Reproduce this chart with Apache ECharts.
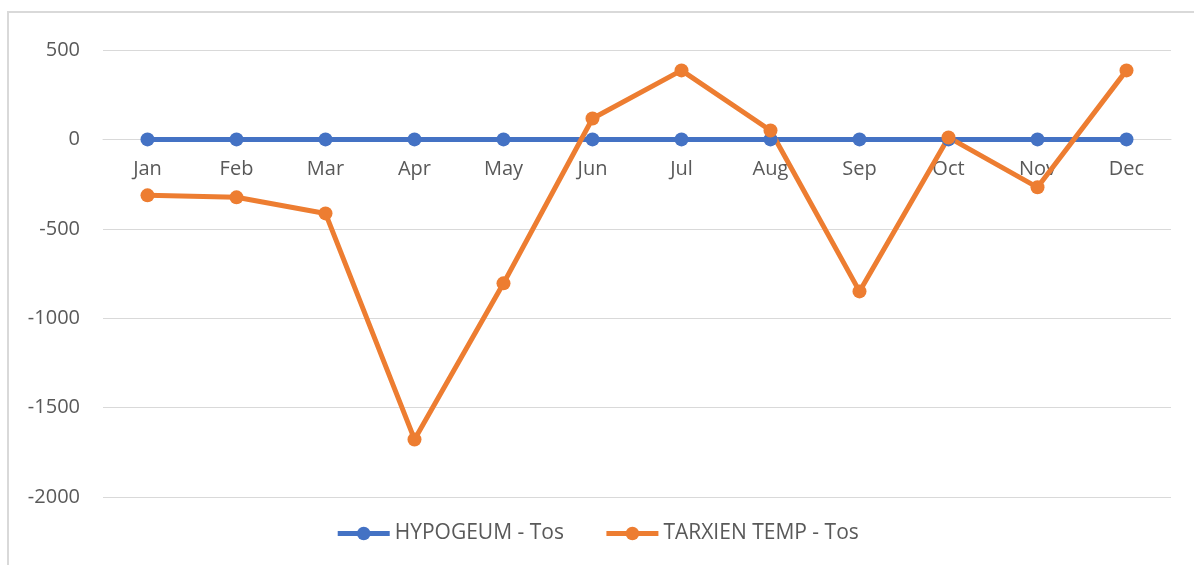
<!DOCTYPE html>
<html>
<head>
<meta charset="utf-8">
<script src="https://cdn.jsdelivr.net/npm/echarts@6/dist/echarts.min.js"></script>
<style>
  body { margin: 0; background: #fff; }
  #frame { position: absolute; left: 7px; top: 11px; width: 1300px; height: 700px;
           border-left: 2px solid #d9d9d9; border-top: 2px solid #d9d9d9; }
  #chart { position: absolute; left: 0; top: 0; width: 1194px; height: 565px; }
</style>
</head>
<body>
<div id="frame"></div>
<div id="chart"></div>
<script>
// months along the x axis
var months = ['Jan', 'Feb', 'Mar', 'Apr', 'May', 'Jun', 'Jul', 'Aug', 'Sep', 'Oct', 'Nov', 'Dec'];
// series values
var hypogeum = [0, 0, 0, 0, 0, 0, 0, 0, 0, 0, 0, 0];
var tarxien = [-313, -324, -414, -1678, -805, 117, 386, 50, -850, 11, -268, 386];

var chartDom = document.getElementById('chart');
var myChart = echarts.init(chartDom);
var font = '"Open Sans", sans-serif';

var option = {
  animation: false,
  grid: { left: 103, right: 23, top: 50, bottom: 68 },
  legend: {
    bottom: 16,
    left: 'center',
    itemWidth: 52,
    itemHeight: 17,
    itemGap: 40,
    textStyle: { fontFamily: font, fontSize: 21, color: '#595959' },
    data: [
      { name: 'HYPOGEUM - Tos', lineStyle: { width: 5 } },
      { name: 'TARXIEN TEMP - Tos', lineStyle: { width: 5 } }
    ]
  },
  xAxis: {
    type: 'category',
    data: months,
    // labels sit just under the zero line, like the original
    offset: -358,
    axisLine: { onZero: false, lineStyle: { color: '#d9d9d9', width: 1 } },
    axisTick: { show: false },
    axisLabel: { margin: 20, fontFamily: font, fontSize: 20, color: '#595959' }
  },
  yAxis: {
    type: 'value',
    min: -2000,
    max: 500,
    interval: 500,
    axisLine: { show: false },
    axisTick: { show: false },
    splitLine: { lineStyle: { color: '#d9d9d9', width: 1 } },
    axisLabel: {
      margin: 23, fontFamily: font, fontSize: 20, color: '#595959',
      formatter: function (v) { return String(v); }
    }
  },
  series: [
    {
      name: 'HYPOGEUM - Tos',
      type: 'line',
      data: hypogeum,
      symbol: 'circle',
      symbolSize: 14,
      itemStyle: { color: '#4472C4' },
      lineStyle: { color: '#4472C4', width: 5 }
    },
    {
      name: 'TARXIEN TEMP - Tos',
      type: 'line',
      data: tarxien,
      symbol: 'circle',
      symbolSize: 14,
      itemStyle: { color: '#ED7D31' },
      lineStyle: { color: '#ED7D31', width: 5 }
    }
  ]
};

option && myChart.setOption(option);
</script>
</body>
</html>
